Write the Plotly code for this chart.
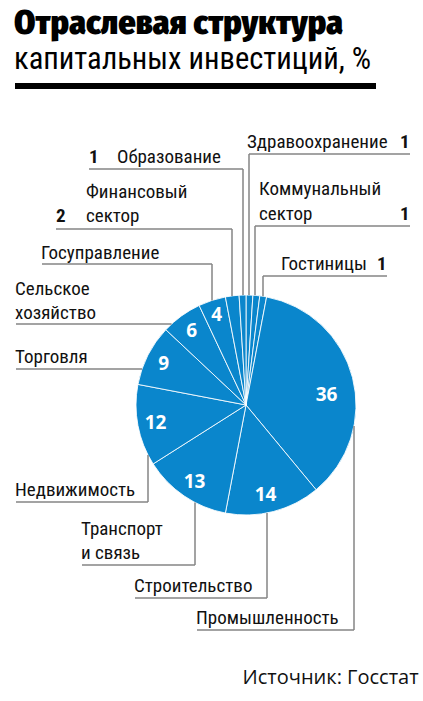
import math
import plotly.graph_objects as go

# ---------------- data ----------------
labels = ["Здравоохранение", "Коммунальный сектор", "Гостиницы", "Промышленность",
          "Строительство", "Транспорт и связь", "Недвижимость", "Торговля",
          "Сельское хозяйство", "Госуправление", "Финансовый сектор", "Образование"]
values = [1, 1, 1, 36, 14, 13, 12, 9, 6, 4, 2, 1]

title_line1 = "Отраслевая структура"
title_line2 = "капитальных инвестиций, %"
source_text = "Источник: Госстат"

# ---------------- layout helpers ----------------
W, H = 423, 701
CX, CY, R = 246, 405, 110
BLUE = "#0a86cc"
GRAY = "#858585"
NARROW = "Roboto Condensed, PT Sans Narrow, sans-serif"
TITLEF = "Fira Sans Condensed, Fira Sans Extra Condensed, Roboto Condensed, sans-serif"
NUMFONT = "Source Sans 3, Open Sans, sans-serif"


def px(x):
    return x / W


def py(y):
    return 1 - y / H


def edge_y(x, top=True):
    d = math.sqrt(max(R * R - (x - CX) ** 2, 0))
    return CY - d if top else CY + d


fig = go.Figure()
fig.add_trace(go.Pie(
    labels=labels, values=values, sort=False, direction="clockwise", rotation=0,
    marker=dict(colors=[BLUE] * len(values), line=dict(color="rgba(255,255,255,0.85)", width=1)),
    textinfo="none", hoverinfo="label+value", showlegend=False,
    domain=dict(x=[px(CX - R), px(CX + R)], y=[py(CY + R), py(CY - R)]),
))

ann = []
shapes = []

# in-slice numbers, positioned along each slice's mid angle
total = sum(values)
cum = 0
radial = {"Промышленность": 0.74}
nudge = {"Промышленность": (2, 10), "Госуправление": (0, -3), "Строительство": (-3, 0)}
for lab, v in zip(labels, values):
    mid = (cum + v / 2) / total * 2 * math.pi
    cum += v
    if v < 4:
        continue
    rf = radial.get(lab, 0.84)
    dx, dy = nudge.get(lab, (0, 0))
    x = CX + math.sin(mid) * R * rf + dx
    y = CY - math.cos(mid) * R * rf + dy
    ann.append(dict(x=px(x), y=py(y), xref="paper", yref="paper", text=f"<b>{v}</b>",
                    showarrow=False, xanchor="center", yanchor="middle",
                    font=dict(family=NUMFONT, size=19, color="white")))

val = dict(zip(labels, values))


def line(x0, y0, x1, y1):
    shapes.append(dict(type="line", xref="paper", yref="paper", x0=px(x0), y0=py(y0),
                       x1=px(x1), y1=py(y1), line=dict(color=GRAY, width=1.5)))


def text(x, y, s, anchor="left", bold=False, size=19):
    ann.append(dict(x=px(x), y=py(y), xref="paper", yref="paper",
                    text=(f"<b>{s}</b>" if bold else s), showarrow=False,
                    xanchor=anchor, yanchor="middle",
                    font=dict(family=NARROW, size=size, color="#111")))


# Образование
text(115, 157, "Образование"); text(87, 157, str(val["Образование"]), bold=True)
line(89, 169, 243, 169); line(243, 169, 243, edge_y(243))
# Здравоохранение
text(245, 142, "Здравоохранение"); text(412, 142, str(val["Здравоохранение"]), anchor="right", bold=True)
line(249, 154, 410, 154); line(249, 154, 249, edge_y(249))
# Финансовый сектор
text(84, 192, "Финансовый"); text(84, 216, "сектор"); text(54, 216, str(val["Финансовый сектор"]), bold=True)
line(56, 229, 232, 229); line(232, 229, 232, edge_y(232))
# Коммунальный сектор
text(257, 189, "Коммунальный"); text(257, 214, "сектор")
text(412, 214, str(val["Коммунальный сектор"]), anchor="right", bold=True)
line(255, 226, 410, 226); line(255, 226, 255, edge_y(255))
# Гостиницы
text(279, 263, "Гостиницы"); text(389, 263, str(val["Гостиницы"]), anchor="right", bold=True)
line(263, 276, 387, 276); line(263, 276, 263, edge_y(263))
# Госуправление
text(39, 252, "Госуправление")
line(42, 264, 212, 264); line(212, 264, 212, edge_y(212))
# Сельское хозяйство
text(13, 288, "Сельское"); text(13, 312, "хозяйство")
line(16, 324, CX - math.sqrt(R * R - (CY - 324) ** 2), 324)
# Торговля
text(13, 356, "Торговля")
line(16, 369, CX - math.sqrt(R * R - (CY - 369) ** 2), 369)
# Недвижимость
text(13, 490, "Недвижимость")
line(16, 502, 148, 502); line(148, 502, 148, edge_y(148, top=False))
# Транспорт и связь
text(79, 528, "Транспорт"); text(79, 552, "и связь")
line(82, 565, 195, 565); line(195, 565, 195, edge_y(195, top=False))
# Строительство
text(132, 585, "Строительство")
line(135, 598, 267, 598); line(267, 598, 267, edge_y(267, top=False))
# Промышленность
text(194, 617, "Промышленность")
line(197, 630, 354, 630); line(354, 630, 354, edge_y(354, top=False))

# title
ann.append(dict(x=px(12), y=py(23), xref="paper", yref="paper", text=title_line1,
                showarrow=False, xanchor="left", yanchor="middle",
                font=dict(family=TITLEF, size=34, color="black", weight=900)))
ann.append(dict(x=px(12), y=py(58), xref="paper", yref="paper", text=title_line2,
                showarrow=False, xanchor="left", yanchor="middle",
                font=dict(family=NARROW, size=30.5, color="black")))
shapes.append(dict(type="rect", xref="paper", yref="paper", x0=px(15), x1=px(376),
                   y0=py(89), y1=py(83), fillcolor="black", line=dict(width=0)))

# source
ann.append(dict(x=px(411), y=py(677), xref="paper", yref="paper", text=source_text,
                showarrow=False, xanchor="right", yanchor="middle",
                font=dict(family=NUMFONT, size=20, color="#111")))

fig.update_layout(width=W, height=H, margin=dict(l=0, r=0, t=0, b=0),
                  paper_bgcolor="white", plot_bgcolor="white",
                  annotations=ann, shapes=shapes)
fig.write_html("out.html", config={"displayModeBar": False},
               post_script="document.body.style.margin='0';document.body.style.overflow='hidden';")
